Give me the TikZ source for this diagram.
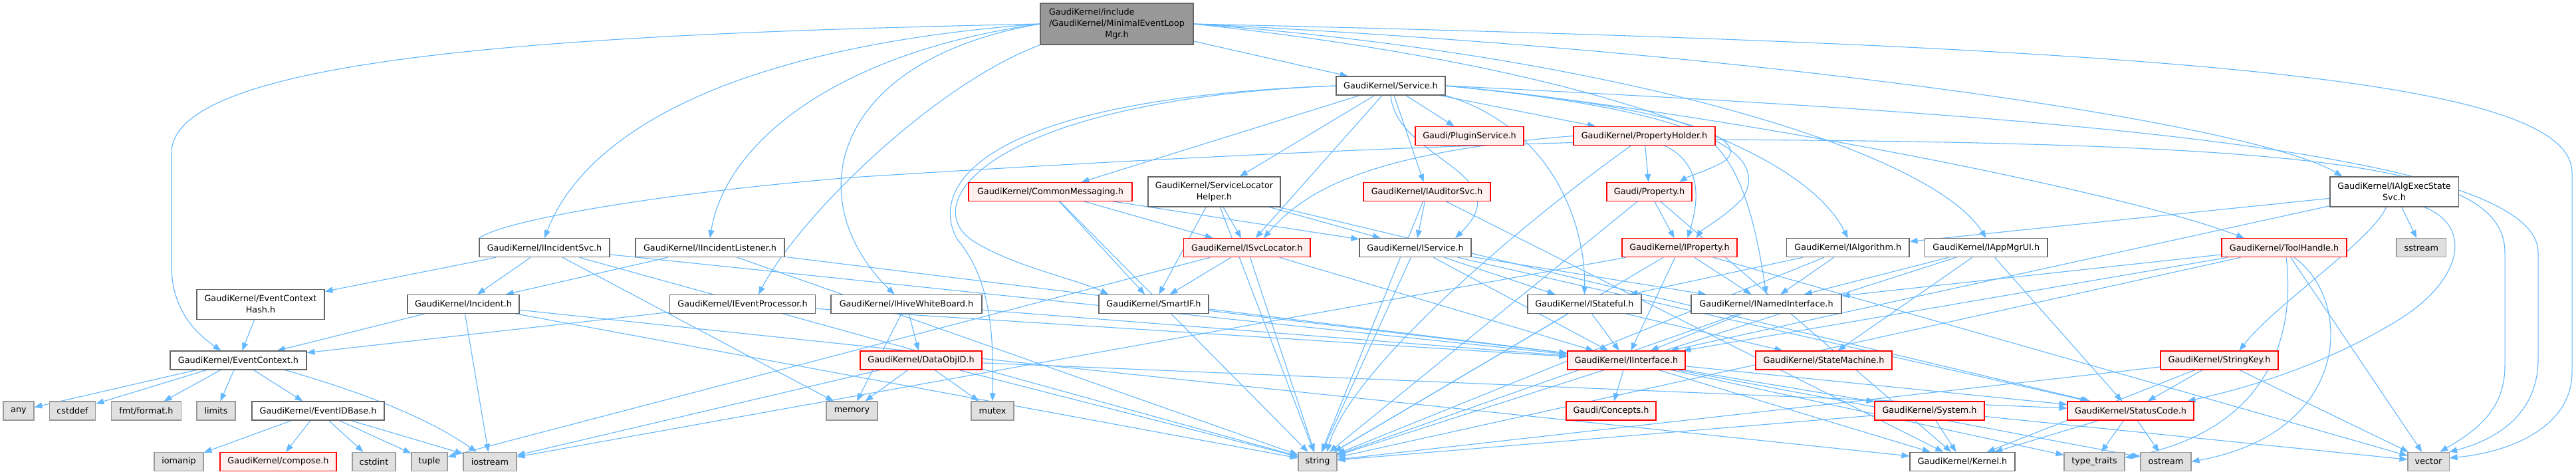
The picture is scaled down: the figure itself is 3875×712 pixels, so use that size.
\documentclass[tikz,border=0pt]{standalone}
\usepackage{fontspec}
\setmainfont{DejaVu Sans}
\usetikzlibrary{arrows.meta}
\definecolor{edgeblue}{HTML}{63B8FF}
\definecolor{nodegray}{HTML}{666666}
\definecolor{extgray}{HTML}{999999}
\definecolor{extfill}{HTML}{E0E0E0}
\definecolor{redfill}{HTML}{FFF0F0}
\definecolor{mainfill}{HTML}{999999}
\pgfdeclarelayer{bg}
\pgfsetlayers{bg,main}
\tikzset{
  box/.style={draw, line width=1.1pt, inner sep=0pt, align=center, font=\fontsize{12.8}{17}\selectfont, text=black},
  plainbox/.style={box, draw=nodegray, fill=white},
  extbox/.style={box, draw=extgray, fill=extfill},
  redbox/.style={box, draw=red, fill=redfill},
  mainbox/.style={box, draw=nodegray, fill=mainfill},
  dep/.style={draw=edgeblue, line width=1.1pt, -{Triangle[length=12pt,width=9pt]}},
}
\newcommand\mknode[7]{\node[#2, minimum width=#5pt, minimum height=#6pt] (#1) at (#3,#4) {#7};}
\begin{document}
\begin{tikzpicture}[x=1pt,y=-1pt]
\useasboundingbox (0,0) rectangle (3875,712);
% row 1
\mknode{main}{mainbox}{1680}{36}{230}{62}{\begin{tabular}{@{}l@{}}GaudiKernel/include\\/GaudiKernel/MinimalEventLoop\\\multicolumn{1}{@{}c@{}}{Mgr.h}\end{tabular}}
\mknode{svc}{plainbox}{2092}{129}{164}{28}{GaudiKernel/Service.h}
% row 2
\mknode{plug}{redbox}{2210.5}{204.5}{163}{28}{Gaudi/PluginService.h}
\mknode{ph}{redbox}{2473.5}{204.5}{213}{28}{GaudiKernel/PropertyHolder.h}
% row 3
\mknode{cm}{redbox}{1580}{288.5}{246}{28}{GaudiKernel/CommonMessaging.h}
\mknode{slh}{plainbox}{1826.5}{288.5}{199}{45}{GaudiKernel/ServiceLocator\\Helper.h}
\mknode{aud}{redbox}{2146.5}{288.5}{191}{28}{GaudiKernel/IAuditorSvc.h}
\mknode{prop}{redbox}{2481}{288.5}{128}{28}{Gaudi/Property.h}
\mknode{aes}{plainbox}{3601.5}{288.5}{193}{45}{GaudiKernel/IAlgExecState\\Svc.h}
% row 4
\mknode{iis}{plainbox}{819}{372.75}{196}{28}{GaudiKernel/IIncidentSvc.h}
\mknode{iil}{plainbox}{1068}{372.75}{224}{28}{GaudiKernel/IIncidentListener.h}
\mknode{isl}{redbox}{1875.75}{372.75}{190.5}{28}{GaudiKernel/ISvcLocator.h}
\mknode{isv}{plainbox}{2129}{372.75}{168}{28}{GaudiKernel/IService.h}
\mknode{ipr}{redbox}{2526.5}{372.75}{173}{28}{GaudiKernel/IProperty.h}
\mknode{ialg}{plainbox}{2779.75}{372.75}{184.5}{28}{GaudiKernel/IAlgorithm.h}
\mknode{iapp}{plainbox}{2987.75}{372.75}{184.5}{28}{GaudiKernel/IAppMgrUI.h}
\mknode{th}{redbox}{3436}{372.75}{188}{28}{GaudiKernel/ToolHandle.h}
\mknode{sst}{extbox}{3642.3}{372.75}{74.6}{28}{sstream}
% row 5
\mknode{ech}{plainbox}{392}{457.6}{192}{45}{GaudiKernel/EventContext\\Hash.h}
\mknode{inc}{plainbox}{697}{457.4}{168}{28}{GaudiKernel/Incident.h}
\mknode{iep}{plainbox}{1117}{457.4}{219}{28}{GaudiKernel/IEventProcessor.h}
\mknode{ihw}{plainbox}{1363.5}{457.4}{227}{28}{GaudiKernel/IHiveWhiteBoard.h}
\mknode{sif}{plainbox}{1735.5}{457.4}{165}{28}{GaudiKernel/SmartIF.h}
\mknode{ist}{plainbox}{2383.5}{457.4}{171}{28}{GaudiKernel/IStateful.h}
\mknode{ini}{plainbox}{2657}{457.4}{226}{28}{GaudiKernel/INamedInterface.h}
% row 6
\mknode{ec}{plainbox}{358.5}{542}{205}{28}{GaudiKernel/EventContext.h}
\mknode{doid}{redbox}{1385.5}{542}{183}{28}{GaudiKernel/DataObjID.h}
\mknode{ii}{redbox}{2446.5}{542}{177}{28}{GaudiKernel/IInterface.h}
\mknode{sm}{redbox}{2743.5}{542}{205}{28}{GaudiKernel/StateMachine.h}
\mknode{sk}{redbox}{3338.5}{542}{177}{28}{GaudiKernel/StringKey.h}
% row 7
\mknode{any}{extbox}{28}{618}{46}{28}{any}
\mknode{cdef}{extbox}{109}{618}{69.5}{28}{cstddef}
\mknode{fmt}{extbox}{220}{618}{105}{28}{fmt/format.h}
\mknode{lim}{extbox}{325}{618}{58}{28}{limits}
\mknode{eidb}{plainbox}{478.5}{618}{199}{28}{GaudiKernel/EventIDBase.h}
\mknode{mem}{extbox}{1281.5}{618}{77}{28}{memory}
\mknode{mtx}{extbox}{1493}{618}{64}{28}{mutex}
\mknode{conc}{redbox}{2423.5}{618}{135}{28}{Gaudi/Concepts.h}
\mknode{sys}{redbox}{2902.5}{618}{165}{28}{GaudiKernel/System.h}
\mknode{sc}{redbox}{3205}{618}{190}{28}{GaudiKernel/StatusCode.h}
% row 8
\mknode{iom}{extbox}{269}{694.4}{74}{28}{iomanip}
\mknode{comp}{redbox}{418.5}{694.4}{175}{28}{GaudiKernel/compose.h}
\mknode{cint}{extbox}{562.5}{694.4}{65}{28}{cstdint}
\mknode{tup}{extbox}{646}{694.4}{54}{28}{tuple}
\mknode{ios}{extbox}{737}{694.4}{80}{28}{iostream}
\mknode{str}{extbox}{1982}{694.4}{58}{28}{string}
\mknode{ker}{plainbox}{2952}{694.4}{158}{28}{GaudiKernel/Kernel.h}
\mknode{tt}{extbox}{3150.5}{694.4}{91}{28}{type\_traits}
\mknode{ost}{extbox}{3258}{694.4}{76}{28}{ostream}
\mknode{vec}{extbox}{3653}{694.4}{62}{28}{vector}

\begin{pgfonlayer}{bg}
\fill[white] (0,0) rectangle (3875,712);
% straight dependencies
\foreach \a/\b in {ech/ec, ec/any, ec/cdef, ec/fmt, ec/lim, ec/eidb,
  eidb/iom, eidb/comp, eidb/cint, eidb/tup, eidb/ios,
  iis/ech, iis/inc, iis/mem, iis/ii, iis/str,
  iil/inc, iil/ii, iil/str,
  inc/ec, inc/ios, inc/str, inc/ker,
  iep/ec, iep/ii,
  ihw/doid, ihw/ii, ihw/mem,
  doid/mem, doid/mtx, doid/ios, doid/str, doid/sc,
  sif/ii,
  isl/sif, isl/ii, isl/str, isl/tup,
  cm/sif, cm/isl, cm/isv, cm/str,
  slh/str, slh/sif, slh/isl, slh/isv, slh/sc,
  aud/isv, aud/str, aud/ker,
  prop/ipr, prop/str, prop/ker,
  ph/prop,
  isv/ii, isv/ini, isv/ist, isv/str, isv/sc,
  ist/ii, ist/str, ist/sm,
  ipr/ii, ipr/ini, ipr/str, ipr/vec, ipr/ios,
  ini/ii, ini/str,
  ialg/ist, ialg/ini, ialg/str,
  iapp/ini, iapp/sm, iapp/str, iapp/sc,
  aes/ialg, aes/ii, aes/sst,
  th/ini, th/ii, th/str, th/vec,
  sk/sc, sk/ker, sk/str, sk/vec,
  sc/ost, sc/tt, sc/ker,
  sys/ker, sys/str, sys/vec,
  ii/conc, ii/sys, ii/sc, ii/ker, ii/tt, ii/ost,
  svc/plug, svc/ph, svc/cm, svc/slh, svc/aud, svc/isl, main/svc}
  \draw[dep] (\a) -- (\b);
% curved dependencies
\draw[dep] (main.west) .. controls (900,50) and (258,80) .. (258,230) -- (258,400) .. controls (258,470) and (300,505) .. ([xshift=-26pt]ec.north);
\draw[dep] (main.west) .. controls (1100,70) and (880,200) .. (iis.north);
\draw[dep] (main.west) .. controls (1250,80) and (1090,220) .. (iil.north);
\draw[dep] (main.west) .. controls (1250,90) and (1200,300) .. ([xshift=-18pt]ihw.north);
\draw[dep] (main.south west) .. controls (1400,130) and (1200,330) .. ([xshift=24pt]iep.north);
\draw[dep] (main.east) .. controls (2300,90) and (2700,200) .. (ialg.north);
\draw[dep] (main.east) .. controls (2400,80) and (2900,220) .. (iapp.north);
\draw[dep] (main.east) .. controls (2700,80) and (3400,190) .. ([xshift=-78pt]aes.north);
\draw[dep] (main.east) .. controls (3300,70) and (3869,120) .. (3869,260) -- (3869,560) .. controls (3869,640) and (3780,680) .. (vec.10);
\draw[dep] (svc.east) .. controls (2560,165) and (2640,215) .. (2590,245) .. controls (2560,260) and (2540,265) .. ([xshift=45pt]prop.north);
\draw[dep] (svc.east) .. controls (2600,170) and (2660,240) .. (2620,300) .. controls (2590,330) and (2560,345) .. ([xshift=25pt]ipr.north);
\draw[dep] (svc.south) .. controls (2100,240) and (2290,260) .. ([xshift=60pt]isv.north);
\draw[dep] (svc.south east) .. controls (2330,190) and (2385,330) .. (ist.north);
\draw[dep] (svc.west) .. controls (1500,150) and (1380,300) .. (1460,360) .. controls (1520,400) and (1620,420) .. ([xshift=-68pt]sif.north);
\draw[dep] (svc.west) .. controls (1450,150) and (1400,290) .. (1440,360) .. controls (1490,420) and (1495,500) .. (mtx.north);
\draw[dep] (svc.east) .. controls (2600,170) and (3200,290) .. ([xshift=-60pt]th.north);
\draw[dep] (svc.east) .. controls (3000,170) and (3818,220) .. (3818,380) -- (3818,540) .. controls (3818,620) and (3760,660) .. (vec.25);
\draw[dep] ([xshift=30pt]ph.south) .. controls (2570,250) and (2550,320) .. ([xshift=12pt]ipr.north);
\draw[dep] (ph.west) .. controls (2050,230) and (1960,290) .. ([xshift=25pt]isl.north);
\draw[dep] (ph.south east) .. controls (2620,260) and (2640,330) .. (ini.north);
\draw[dep] ([xshift=-20pt]ph.south) .. controls (2270,350) and (2030,560) .. ([xshift=14pt]str.north);
\draw[dep] (iis.north west) .. controls (760,330) and (1000,290) .. (1280,267) .. controls (1700,240) and (2200,215) .. (2580,210) .. controls (3500,215) and (3768,250) .. (3768,380) -- (3768,550) .. controls (3768,620) and (3720,650) .. (vec.40);
\draw[dep] ([xshift=70pt]ec.south) .. controls (580,600) and (660,640) .. ([xshift=-20pt]ios.north);
\draw[dep] ([xshift=-12pt]aes.south) .. controls (3570,360) and (3420,460) .. ([xshift=30pt]sk.north);
\draw[dep] ([xshift=45pt]aes.south) .. controls (3720,340) and (3705,420) .. (3610,480) .. controls (3480,560) and (3350,590) .. ([xshift=-10pt]sc.north east);
\draw[dep] ([xshift=3pt]th.south) .. controls (3455,520) and (3400,650) .. ([yshift=6pt]tt.east);
\draw[dep] ([xshift=15pt]th.south) .. controls (3540,450) and (3540,650) .. (ost.east);
\end{pgfonlayer}
\end{tikzpicture}
\end{document}
